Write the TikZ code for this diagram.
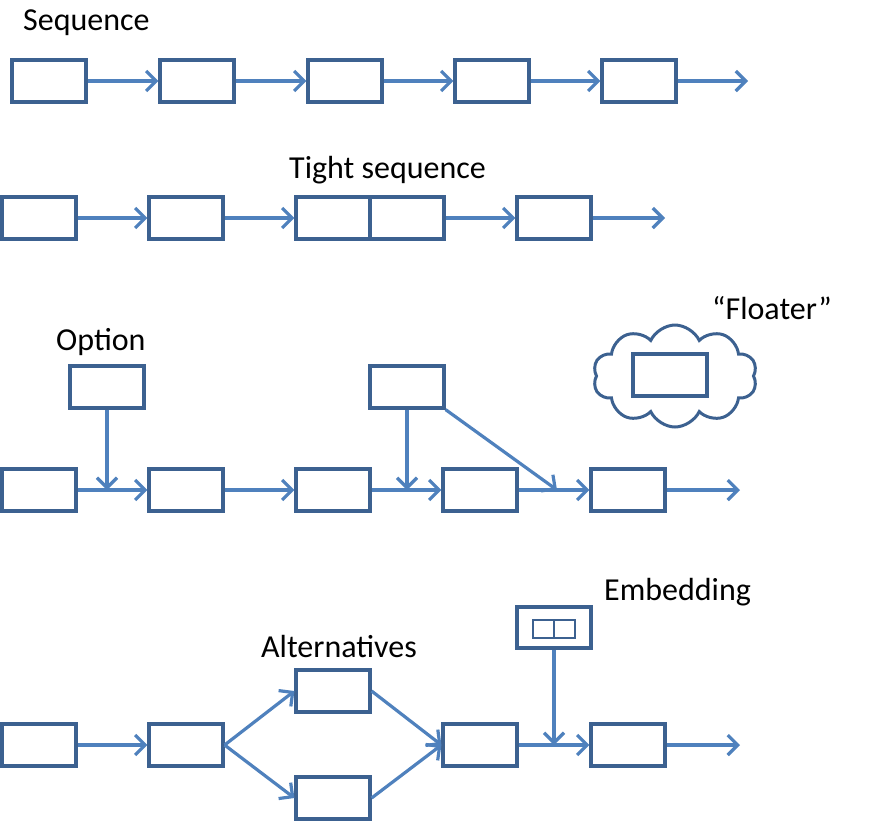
\documentclass[tikz,border=0pt]{standalone}
\usepackage{fontspec}
\setmainfont{Carlito}
\usetikzlibrary{arrows.meta,positioning,shapes.symbols}
\definecolor{boxblue}{HTML}{3C6190}
\definecolor{arrowblue}{HTML}{4F81BD}

\begin{document}
\begin{tikzpicture}[x=1pt,y=-1pt,
box/.style={draw=boxblue,line width=3.2pt,minimum width=74pt,minimum height=42pt,inner sep=0pt},
minibox/.style={draw=boxblue,line width=2.8pt,minimum width=21pt,minimum height=18pt,inner sep=0pt},
link/.style={draw=arrowblue,line width=3.2pt,-{Straight Barb[length=10pt,width=20pt]}},
lbl/.style={font=\fontsize{32}{36}\selectfont,text=black,inner sep=0pt,anchor=west}]
\useasboundingbox (0,0) rectangle (870,823);

% sequence
\node[lbl] at (23,23){Sequence};
\foreach \i/\x in {1/49,2/197,3/345,4/492,5/639}
  \node[box] (s\i) at (\x,81){};
\coordinate (s6) at (748,81);
\foreach \i/\j in {1/2,2/3,3/4,4/5}
  \draw[link] (s\i) -- (s\j);
\draw[link] (s5.east) -- (s6);

% tight sequence
\node[lbl] at (289,170){Tight sequence};
\foreach \i/\x in {1/39,2/186,3/333,4/407,5/554}
  \node[box] (t\i) at (\x,218){};
\coordinate (t6) at (665,218);
\draw[link] (t1) -- (t2);
\draw[link] (t2) -- (t3);
\draw[link] (t4) -- (t5);
\draw[link] (t5.east) -- (t6);

% option
\node[lbl] at (56,342){Option};
\foreach \i/\x in {1/39,2/186,3/333,4/480,5/628}
  \node[box] (r\i) at (\x,490){};
\coordinate (r6) at (740,490);
\node[box] (opt1) at (107,387){};
\node[box] (opt2) at (407,387){};
\coordinate (j1) at (107,490);
\coordinate (j2) at (407,490);
\coordinate (j3) at (557,490);
\foreach \i/\j in {1/2,2/3,3/4,4/5}
  \draw[link] (r\i) -- (r\j);
\draw[link] (r5.east) -- (r6);
\draw[link] (opt1) -- (j1);
\draw[link] (opt2) -- (j2);
\draw[link] (opt2.south east) -- (j3);

% floater
\node[lbl] at (712,308){“Floater”};
\node[cloud,draw=boxblue,line width=3pt,cloud puffs=10,cloud puff arc=130,aspect=1.6,
  minimum width=164pt,minimum height=102pt] (cl) at (675,376){};
\node[box] (fl) at (670,375){};

% alternatives and embedding
\node[lbl] at (261,646){Alternatives};
\node[lbl] at (604,592){Embedding};
\node[box] (q1) at (39,745){};
\node[box] (q2) at (186,745){};
\node[box] (alt1) at (333,691){};
\node[box] (alt2) at (333,798){};
\node[box] (q3) at (480,745){};
\node[box] (q4) at (628,745){};
\coordinate (q5) at (740,745);
\node[box,minimum height=41pt] (emb) at (554,627.5){};
\node[minibox] (in1) at (543.5,629){};
\node[minibox] (in2) at (564.5,629){};
\coordinate (j4) at (554,745);
\draw[link] (q1) -- (q2);
\draw[link] (q2.east) -- (alt1.west);
\draw[link] (q2.east) -- (alt2.west);
\draw[link] (alt1.east) -- (q3.west);
\draw[link] (alt2.east) -- (q3.west);
\draw[link] (q3) -- (q4);
\draw[link] (q4.east) -- (q5);
\draw[link] (emb) -- (j4);
\end{tikzpicture}
\end{document}
